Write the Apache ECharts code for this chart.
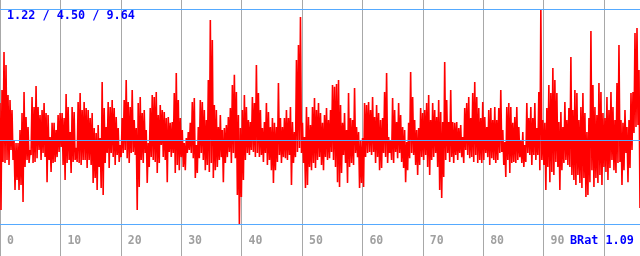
<!DOCTYPE html>
<html><head><meta charset="utf-8">
<script src="https://cdn.jsdelivr.net/npm/echarts@6/dist/echarts.min.js"></script>
<style>html,body{margin:0;padding:0;background:#fff}#c{width:640px;height:256px}</style>
</head><body><div id="c"></div>
<script>
// Signal values, one per pixel column
const signal = [
5.96,1.77,6.47,3.65,7.96,3.61,7.45,3.73,6.27,3.53,6.08,4.12,5.68,3.73,4.51,2.55,4.39,2.94,4.39,2.55,4.90,2.75,5.57,2.08,6.39,3.45,5.41,3.73,5.02,3.61,4.12,3.92,
6.19,3.61,5.80,3.65,6.62,3.80,5.80,4.12,5.49,3.73,5.68,4.00,5.96,3.84,5.57,2.86,5.49,3.73,4.63,3.26,5.18,3.61,5.18,3.65,4.90,3.84,5.49,4.04,5.57,4.24,5.57,3.53,
5.37,2.94,6.31,3.61,5.80,3.73,4.82,3.22,5.80,3.65,5.61,3.73,4.20,3.65,6.00,3.61,6.35,3.53,5.68,3.73,6.00,3.73,5.76,3.41,5.68,3.73,5.37,3.53,5.57,2.83,4.98,3.02,
4.78,2.55,5.10,3.45,4.59,2.63,6.78,2.36,5.76,3.61,5.02,4.00,6.00,3.41,5.80,4.00,6.08,3.84,5.76,3.53,5.41,3.92,4.98,3.65,4.31,3.84,5.37,4.00,6.08,4.12,6.86,3.80,
6.00,3.61,5.80,4.00,6.47,4.04,5.29,3.92,4.98,1.77,5.96,2.67,6.19,3.73,5.57,3.61,5.68,4.00,4.90,2.83,4.39,3.45,5.76,3.84,6.27,3.73,6.19,3.65,6.39,3.22,5.49,3.61,
5.88,4.31,5.68,3.84,5.61,3.73,5.37,2.86,5.41,4.04,5.18,3.84,5.21,4.00,6.35,3.22,7.13,3.53,6.08,3.33,5.37,3.84,4.90,3.45,4.39,3.33,4.59,4.00,4.82,4.12,5.18,4.00,
6.00,3.80,6.15,3.02,4.31,3.22,5.02,3.80,6.08,4.00,6.00,3.73,5.68,3.33,5.29,3.53,6.86,3.26,9.21,3.61,8.43,3.02,5.88,3.33,5.68,3.45,5.02,3.73,5.49,3.84,4.90,2.86,
4.98,3.61,5.10,3.84,5.41,4.04,5.76,3.61,6.66,4.00,7.06,3.80,6.39,2.36,5.49,1.22,4.98,2.28,5.68,2.94,6.27,3.73,5.80,4.00,5.29,3.92,5.21,4.12,6.19,4.04,5.96,3.84,
7.45,4.00,6.35,3.84,5.68,3.92,4.98,3.65,5.21,4.00,5.96,3.53,5.61,3.73,5.02,3.33,5.37,2.83,5.18,3.33,5.02,3.65,6.74,3.92,5.37,3.61,5.02,3.84,5.37,3.80,5.68,3.73,
5.37,3.92,5.80,2.75,5.21,3.61,4.82,3.84,7.64,4.04,8.23,4.20,9.33,4.00,5.18,3.61,4.63,2.63,5.80,2.75,5.41,3.45,5.10,3.33,5.80,3.61,6.15,3.41,5.68,3.73,5.96,3.84,
5.57,3.53,5.18,3.33,5.49,3.84,5.76,3.73,5.29,3.80,5.68,4.04,6.66,3.73,6.59,3.45,6.70,2.86,6.86,2.67,5.88,3.22,5.18,3.92,5.57,3.61,4.90,2.83,6.35,3.45,5.37,3.61,
5.29,3.53,6.55,4.00,5.02,3.84,4.82,2.63,4.51,2.83,4.59,2.67,5.96,3.84,5.88,4.00,6.00,4.04,5.68,3.92,6.19,4.04,5.41,3.61,5.88,3.84,5.57,3.33,5.29,3.41,5.37,4.00,
6.39,3.84,7.13,3.61,4.63,4.00,4.51,3.73,6.15,3.61,5.68,4.04,5.21,3.80,5.96,4.00,5.49,3.65,5.02,3.41,4.90,2.86,4.43,3.33,5.18,3.80,7.17,4.00,6.19,3.92,5.29,3.53,
4.90,3.14,4.98,3.53,5.76,3.84,5.57,3.73,5.68,3.92,5.96,3.45,6.27,3.14,5.29,3.73,5.96,3.84,5.68,4.00,5.41,3.45,6.08,2.55,5.61,2.24,5.21,3.06,7.56,3.73,6.08,4.00,
5.21,3.65,6.47,3.84,5.21,3.61,5.18,3.92,5.21,3.73,4.98,4.00,5.10,3.84,4.63,3.61,5.76,4.12,5.96,3.92,6.19,3.80,5.37,3.84,6.35,3.65,6.78,3.92,6.19,3.61,5.76,3.73,
5.37,3.61,6.00,3.73,5.41,4.00,5.02,3.84,5.68,3.53,5.76,3.80,5.29,3.73,5.80,3.61,5.29,3.73,5.76,4.00,6.47,4.04,4.90,3.53,4.43,3.06,5.80,3.73,5.96,3.22,5.80,3.61,
5.18,3.65,5.41,3.61,5.80,3.73,5.02,3.84,4.51,3.61,4.82,3.45,4.31,3.65,5.96,4.00,5.37,3.92,5.80,3.53,5.37,3.92,5.96,3.73,4.98,3.92,6.39,3.33,9.64,3.73,5.29,3.53,
5.18,2.55,5.76,3.45,6.66,2.86,6.35,3.26,7.33,3.14,6.86,3.65,6.35,3.45,5.21,2.55,5.61,3.33,5.02,3.61,6.00,3.73,5.29,3.53,5.76,3.45,7.76,3.14,5.68,2.94,6.47,2.75,
6.35,3.14,5.29,2.83,5.80,2.63,6.35,3.02,5.57,2.28,4.82,2.36,5.37,2.86,8.78,3.33,6.66,2.67,5.80,3.02,5.49,2.83,6.74,3.14,6.39,2.75,5.57,3.45,5.37,3.26,6.19,2.94,
5.68,3.41,6.39,3.73,5.80,3.33,5.29,3.22,6.74,3.61,8.23,3.65,5.29,2.75,5.18,3.33,5.68,4.00,5.02,2.86,5.29,3.41,6.35,4.12,6.39,4.78,8.70,5.02,8.90,5.10,7.25,1.85
];
// min / mean / max
const statValues = [1.22, 4.50, 9.64];
const tickLabels = ['0','10','20','30','40','50','60','70','80','90'];
const ratioText = 'BRat 1.09';

const sampleIndex = signal.map((_, i) => i);
const FONT = '"DejaVu Sans Mono", monospace';

const chart = echarts.init(document.getElementById('c'), null, {renderer: 'canvas'});
chart.setOption({
  animation: false,
  backgroundColor: '#ffffff',
  grid: {left: 0, right: 0, top: 0, bottom: 0},
  xAxis: [
    {
      type: 'value', min: 0, max: 105.96, interval: 10,
      axisLine: {show: false}, axisTick: {show: false},
      splitLine: {show: true, lineStyle: {color: '#a8a8a8', width: 1}},
      axisLabel: {
        inside: true, margin: 15, verticalAlign: 'middle', align: 'left',
        padding: [0, 0, 0, 7], color: '#a0a0a0', fontFamily: FONT,
        fontWeight: 'bold', fontSize: 11.5, showMaxLabel: false, showMinLabel: true,
        formatter: function (v) { const i = Math.round(v / 10); return i < tickLabels.length ? tickLabels[i] : ''; }
      }
    },
    {type: 'category', data: sampleIndex, boundaryGap: false, show: false}
  ],
  yAxis: {type: 'value', min: -0.0332, max: 9.9925, show: false, splitLine: {show: false}},
  series: [
    {
      type: 'line', xAxisIndex: 1, data: signal, showSymbol: false, symbol: 'none',
      lineStyle: {color: '#ff0000', width: 1.6}, z: 2, silent: true
    },
    {
      type: 'line', xAxisIndex: 1, data: [], z: 3,
      markLine: {
        silent: true, symbol: 'none', label: {show: false}, animation: false,
        lineStyle: {color: '#55aaff', width: 1, type: 'solid'},
        data: statValues.map(v => ({yAxis: v}))
      }
    }
  ],
  graphic: [
    {type: 'text', x: 7, y: 15.5, z: 10, style: {
      text: statValues.map(v => v.toFixed(2)).join(' / '), fill: '#0000ff',
      font: 'bold 11.8px ' + FONT, verticalAlign: 'middle', align: 'left'}},
    {type: 'text', x: 570, y: 241, z: 10, style: {
      text: ratioText, fill: '#0000ff',
      font: 'bold 11.8px ' + FONT, verticalAlign: 'middle', align: 'left'}}
  ]
});
</script>
</body></html>
